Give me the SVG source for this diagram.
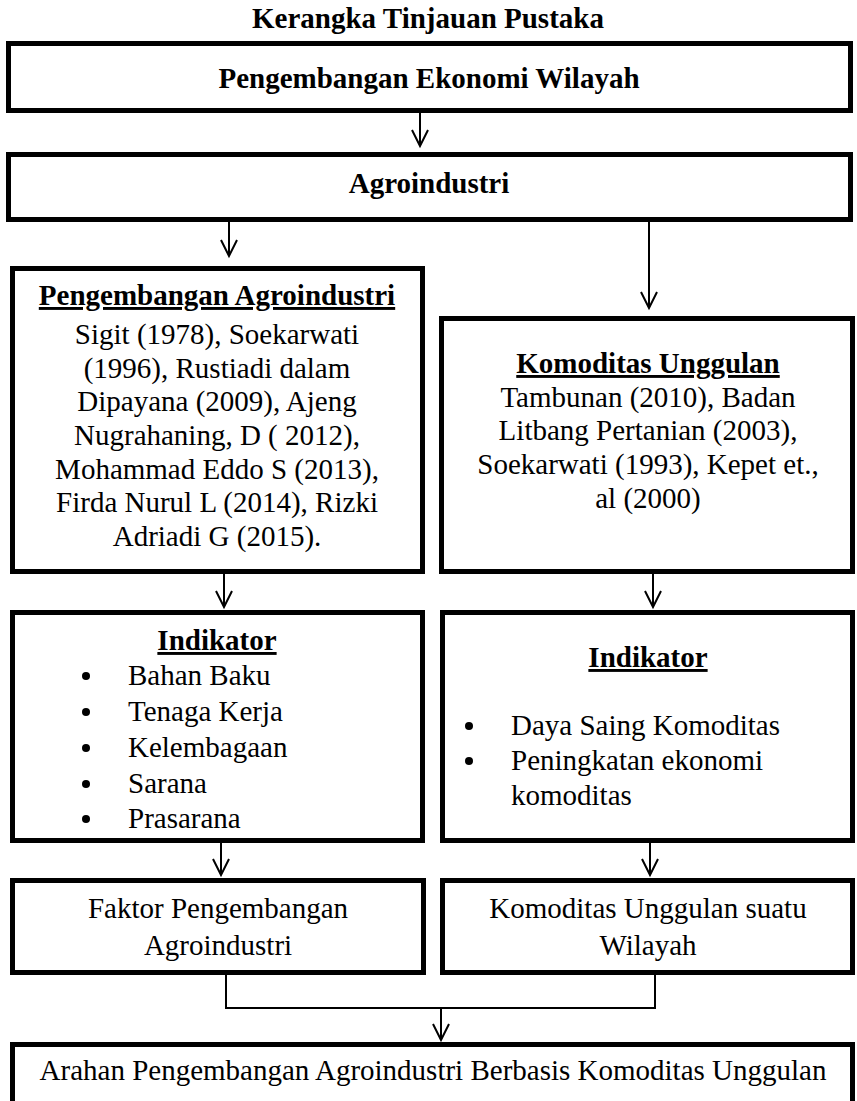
<svg xmlns="http://www.w3.org/2000/svg" width="857" height="1101" viewBox="0 0 857 1101">
<style>
.box{fill:#fff;stroke:#000;stroke-width:5}
.t{font-family:"Liberation Serif","Times New Roman",serif;font-size:29px;fill:#000}
.b{font-weight:bold}
.c{text-anchor:middle}
.u{text-decoration:underline}
.con{fill:none;stroke:#000;stroke-width:2}
</style>
<defs>
<marker id="arr" markerUnits="userSpaceOnUse" viewBox="-17 -10 19 20" markerWidth="19" markerHeight="20" refX="0" refY="0" orient="auto" overflow="visible">
<path d="M-16,-8 L0,0 L-16,8" fill="none" stroke="#000" stroke-width="2"/>
</marker>
</defs>
<rect width="857" height="1101" fill="#fff"/>
<text class="t b c" x="428" y="28">Kerangka Tinjauan Pustaka</text>

<g id="connectors">
<line class="con" x1="420" y1="113" x2="420" y2="146" marker-end="url(#arr)"/>
<line class="con" x1="229" y1="222" x2="229" y2="256" marker-end="url(#arr)"/>
<line class="con" x1="649" y1="222" x2="649" y2="308" marker-end="url(#arr)"/>
<line class="con" x1="224" y1="574" x2="224" y2="607" marker-end="url(#arr)"/>
<line class="con" x1="653" y1="574" x2="653" y2="607" marker-end="url(#arr)"/>
<line class="con" x1="221" y1="843" x2="221" y2="875" marker-end="url(#arr)"/>
<line class="con" x1="650" y1="843" x2="650" y2="875" marker-end="url(#arr)"/>
<polyline class="con" points="226,975 226,1008 655,1008 655,975"/>
<line class="con" x1="441" y1="1008" x2="441" y2="1040" marker-end="url(#arr)"/>
</g>

<g id="n1">
<rect class="box" x="8.5" y="43.5" width="842" height="67"/>
<text class="t b c" x="429" y="88">Pengembangan Ekonomi Wilayah</text>
</g>
<g id="n2">
<rect class="box" x="8.5" y="154.5" width="842" height="65"/>
<text class="t b c" x="429" y="193">Agroindustri</text>
</g>
<g id="n3">
<rect class="box" x="12.5" y="268.5" width="410" height="303"/>
<text class="t b c u" x="217" y="305">Pengembangan Agroindustri</text>
<text class="t c" x="217" y="344">Sigit (1978), Soekarwati</text>
<text class="t c" x="217" y="378">(1996), Rustiadi dalam</text>
<text class="t c" x="217" y="411">Dipayana (2009), Ajeng</text>
<text class="t c" x="217" y="445">Nugrahaning, D ( 2012),</text>
<text class="t c" x="217" y="479">Mohammad Eddo S (2013),</text>
<text class="t c" x="217" y="512">Firda Nurul L (2014), Rizki</text>
<text class="t c" x="217" y="546">Adriadi G (2015).</text>
</g>
<g id="n4">
<rect class="box" x="441.5" y="318.5" width="411" height="253"/>
<text class="t b c u" x="648" y="373">Komoditas Unggulan</text>
<text class="t c" x="648" y="407">Tambunan (2010), Badan</text>
<text class="t c" x="648" y="440">Litbang Pertanian (2003),</text>
<text class="t c" x="648" y="474">Soekarwati (1993), Kepet et.,</text>
<text class="t c" x="648" y="508">al (2000)</text>
</g>
<g id="n5">
<rect class="box" x="12.5" y="612.5" width="410" height="228"/>
<text class="t b c u" x="217" y="650">Indikator</text>
<circle cx="86" cy="676" r="4"/>
<circle cx="86" cy="712" r="4"/>
<circle cx="86" cy="748" r="4"/>
<circle cx="86" cy="784" r="4"/>
<circle cx="86" cy="819" r="4"/>
<text class="t" x="128" y="685">Bahan Baku</text>
<text class="t" x="128" y="721">Tenaga Kerja</text>
<text class="t" x="128" y="757">Kelembagaan</text>
<text class="t" x="128" y="793">Sarana</text>
<text class="t" x="128" y="828">Prasarana</text>
</g>
<g id="n6">
<rect class="box" x="442.5" y="612.5" width="410" height="228"/>
<text class="t b c u" x="648" y="667">Indikator</text>
<circle cx="469" cy="726" r="4"/>
<circle cx="469" cy="761" r="4"/>
<text class="t" x="511" y="735">Daya Saing Komoditas</text>
<text class="t" x="511" y="770">Peningkatan ekonomi</text>
<text class="t" x="511" y="805">komoditas</text>
</g>
<g id="n7">
<rect class="box" x="12.5" y="880.5" width="411" height="92"/>
<text class="t c" x="218" y="918">Faktor Pengembangan</text>
<text class="t c" x="218" y="955">Agroindustri</text>
</g>
<g id="n8">
<rect class="box" x="442.5" y="880.5" width="410" height="92"/>
<text class="t c" x="648" y="918">Komoditas Unggulan suatu</text>
<text class="t c" x="648" y="955">Wilayah</text>
</g>
<g id="n9">
<rect class="box" x="12.5" y="1044.5" width="840" height="75"/>
<text class="t c" x="433" y="1080">Arahan Pengembangan Agroindustri Berbasis Komoditas Unggulan</text>
</g>
</svg>
